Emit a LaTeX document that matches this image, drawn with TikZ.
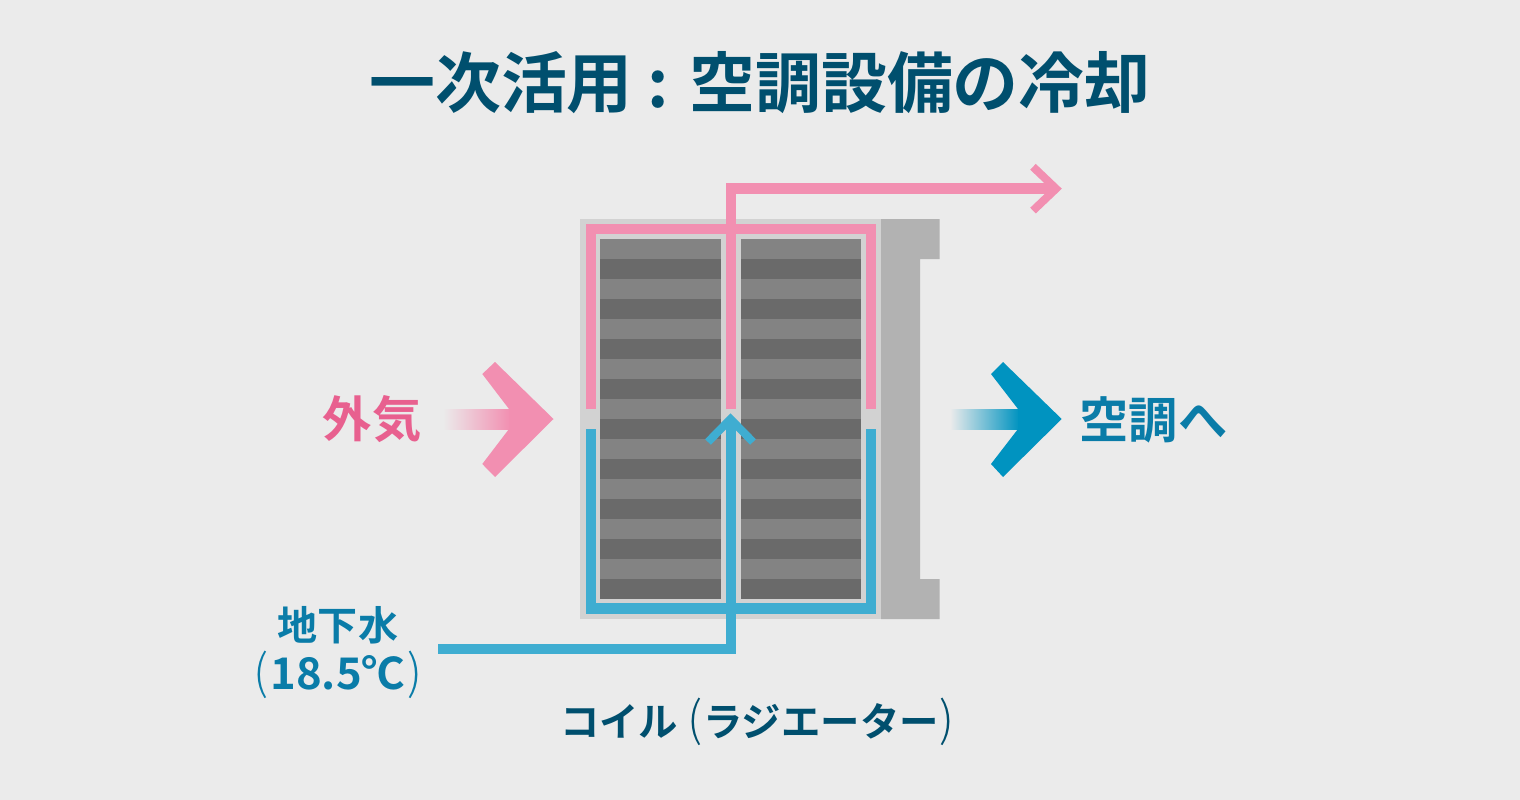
\documentclass[tikz,border=0pt]{standalone}
\usepackage{xcolor}
\usepackage{fontspec}
\setmainfont{Noto Sans CJK JP}[BoldFont={Noto Sans CJK JP Bold}]
\newfontfamily\parenfont{Noto Sans CJK JP Light}
\usetikzlibrary{positioning}
\definecolor{paper}{HTML}{EBEBEB}
\definecolor{frameGray}{HTML}{D2D2D2}
\definecolor{blockGray}{HTML}{B2B2B2}
\definecolor{finLight}{HTML}{838383}
\definecolor{finDark}{HTML}{6A6A6A}
\definecolor{airPink}{HTML}{F28FB1}
\definecolor{waterBlue}{HTML}{3FADD1}
\definecolor{coolBlue}{HTML}{0093C0}
\definecolor{titleNavy}{HTML}{004F6E}
\definecolor{labelBlue}{HTML}{0A7CA8}
\definecolor{labelPink}{HTML}{E8608F}
\newcommand{\tallparen}[2]{{\mdseries\parenfont\fontsize{#1}{14pt}\selectfont #2}}
\tikzstyle{titleText} =[inner sep=0pt,text=titleNavy,font=\bfseries\fontsize{18.75pt}{22pt}\selectfont]
\tikzstyle{bigLabel}  =[inner sep=0pt,font=\bfseries\fontsize{14pt}{16pt}\selectfont]
\tikzstyle{waterText} =[inner sep=0pt,text=labelBlue,font=\bfseries\fontsize{11.4pt}{14pt}\selectfont]
\tikzstyle{tempText}  =[inner sep=0pt,text=labelBlue,font=\bfseries\fontsize{12.4pt}{14pt}\selectfont]
\tikzstyle{coilText}  =[inner sep=0pt,text=titleNavy,font=\bfseries\fontsize{11.2pt}{14pt}\selectfont]
\tikzstyle{pipe}      =[line width=0.1cm,miter limit=10]
\tikzstyle{barb}      =[line width=0.08cm,miter limit=10]

\begin{document}
\begin{tikzpicture}[x=0.01cm,y=-0.01cm]
      \useasboundingbox (0,0) rectangle (1520,800);
      \fill[paper] (0,0) rectangle (1520,800);
      % unit body
      \fill[blockGray] (881,219) -- (939.5,219) -- (939.5,259) -- (920,259) -- (920,579)
        -- (939.5,579) -- (939.5,619) -- (881,619) -- cycle;
      \fill[frameGray] (580,219) rectangle (881,619);
      \fill[finLight] (600,239) rectangle (720.7,599);
      \fill[finLight] (740.7,239) rectangle (860.7,599);
      \foreach \i in {0,...,8} {
        \fill[finDark] (600,259+40*\i) rectangle (720.7,279+40*\i);
        \fill[finDark] (740.7,259+40*\i) rectangle (860.7,279+40*\i);
      }
      % pipes
      \coordinate (pinkLeft) at (590.7,409);
      \coordinate (pinkLeftTop) at (590.7,229);
      \coordinate (pinkRightTop) at (870.7,229);
      \coordinate (pinkRight) at (870.7,409);
      \coordinate (pinkMid) at (730.7,409);
      \coordinate (pinkUp) at (730.7,188.5);
      \coordinate (pinkOut) at (1055,188.5);
      \coordinate (blueLeft) at (590.7,429);
      \coordinate (blueLeftLow) at (590.7,608.5);
      \coordinate (blueRightLow) at (870.7,608.5);
      \coordinate (blueRight) at (870.7,429);
      \coordinate (blueMid) at (730.7,420);
      \coordinate (blueCorner) at (730.7,649);
      \coordinate (blueStart) at (438,649);
      \draw[pipe,airPink] (pinkLeft) -- (pinkLeftTop) -- (pinkRightTop) -- (pinkRight);
      \draw[pipe,airPink] (pinkMid) -- (pinkUp) -- (pinkOut);
      \draw[barb,airPink] (1033,166.8) -- (1056,188.7) -- (1033,210.6);
      \draw[pipe,waterBlue] (blueLeft) -- (blueLeftLow) -- (blueRightLow) -- (blueRight);
      \draw[pipe,waterBlue] (blueStart) -- (blueCorner) -- (blueMid);
      \draw[barb,waterBlue] (708,442) -- (730.5,419) -- (753,442);
      % big arrows
      \shade[left color=paper,right color=airPink] (443,409) rectangle (510,429);
      \fill[airPink] (495,362) -- (553.5,419) -- (495,477) -- (482.3,464) -- (509,429)
        -- (509,409) -- (482.3,374) -- cycle;
      \shade[left color=paper,right color=coolBlue] (950,409) rectangle (1019,429);
      \fill[coolBlue] (1003,362) -- (1061.7,419) -- (1003,477) -- (991,464) -- (1018,429)
        -- (1018,409) -- (991,374) -- cycle;
      % labels
      \node[titleText] (title) [] at (760,83) {一次活用 : 空調設備の冷却};
      \node[bigLabel,text=labelPink] (air) [] at (372,419) {外気};
      \node[bigLabel,text=labelBlue] (toHvac) [anchor=west] at (1079,420) {空調へ};
      \node[waterText] (water) [] at (338,625) {地下水};
      \node[tempText] (temp) [] at (338,675) {\tallparen{13.5pt}{(}\kern0.5pt 18.5℃\kern0.5pt\tallparen{13.5pt}{)}};
      \node[coilText] (coil) [] at (757.5,722) {コイル \tallparen{13.5pt}{(}\kern0.3pt ラジエーター\kern0.3pt\tallparen{13.5pt}{)}};
\end{tikzpicture}
\end{document}
